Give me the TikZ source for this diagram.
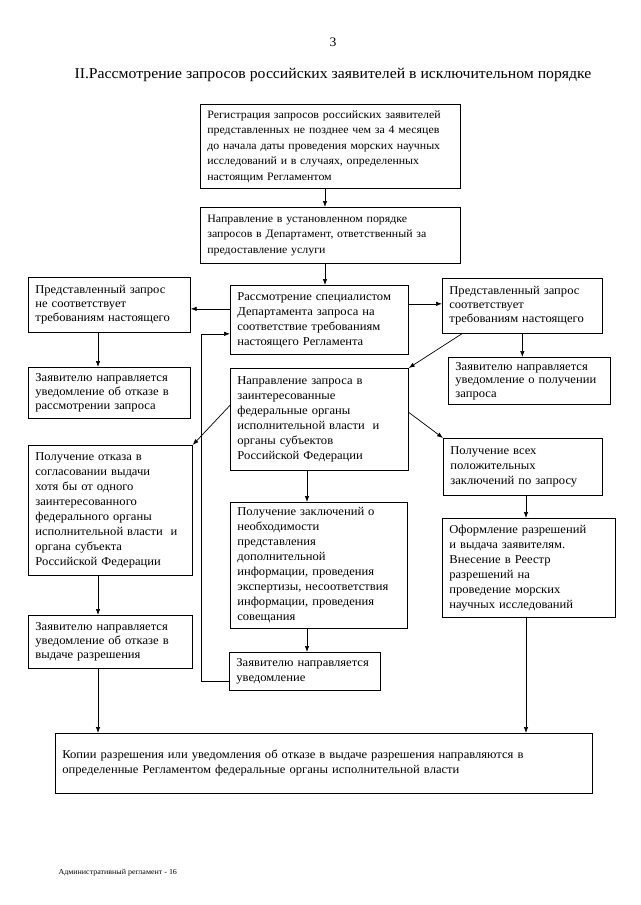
\documentclass[tikz,border=0pt]{standalone}
\usepackage{fontspec}
\setmainfont{Liberation Serif}[FakeStretch=1.05]
\usetikzlibrary{arrows.meta}

\begin{document}
\begin{tikzpicture}[x=1pt, y=-1pt,
  box/.style={draw, line width=0.7pt, anchor=north west, align=left,
    inner xsep=7pt, inner ysep=0pt, font=\fontsize{12}{15}\selectfont},
  arr/.style={line width=0.7pt, -{Latex[length=6pt, width=4.5pt]}}]
\useasboundingbox (0,0) rectangle (640,905);

% Header
\node (num) at (333,42) {\fontsize{13}{15}\selectfont 3};
\node (title) at (333,75) {\fontsize{15}{17}\selectfont II.Рассмотрение запросов российских заявителей в исключительном порядке};

% Middle column
\node[box, text width=246pt, minimum height=84pt, font=\fontsize{11.3}{15.5}\selectfont] (reg) at (200,104) {Регистрация запросов российских заявителей\\
представленных не позднее чем за 4 месяцев\\
до начала даты проведения морских научных\\
исследований и в случаях, определенных\\
настоящим Регламентом};
\node[box, text width=246pt, minimum height=56pt, font=\fontsize{11.3}{15.5}\selectfont] (napr) at (200,207) {Направление в установленном порядке\\
запросов в Департамент, ответственный за\\
предоставление услуги};
\node[box, text width=164pt, minimum height=69pt] (rassm) at (230,285) {Рассмотрение специалистом\\
Департамента запроса на\\
соответствие требованиям\\
настоящего Регламента};
\node[box, text width=164pt, minimum height=102pt] (zapros) at (230,368) {Направление запроса в\\
заинтересованные\\
федеральные органы\\
исполнительной власти~ и\\
органы субъектов\\
Российской Федерации};
\node[box, text width=163pt, minimum height=126pt] (zakl) at (230,502) {Получение заключений о\\
необходимости\\
представления\\
дополнительной\\
информации, проведения\\
экспертизы, несоответствия\\
информации, проведения\\
совещания};
\node[box, text width=137pt, minimum height=38pt] (uved) at (229,652) {Заявителю направляется\\
уведомление};

% Left column
\node[box, text width=148pt, minimum height=55pt, font=\fontsize{12}{14}\selectfont] (nesoot) at (28,277) {Представленный запрос\\
не соответствует\\
требованиям настоящего};
\node[box, text width=148pt, minimum height=51pt, font=\fontsize{12}{14}\selectfont] (otkrassm) at (28,367) {Заявителю направляется\\
уведомление об отказе в\\
рассмотрении запроса};
\node[box, text width=150pt, minimum height=130pt] (otkaz) at (28,445) {Получение отказа в\\
согласовании выдачи\\
хотя бы от одного\\
заинтересованного\\
федерального органы\\
исполнительной власти~ и\\
органа субъекта\\
Российской Федерации};
\node[box, text width=150pt, minimum height=53pt, font=\fontsize{12}{14}\selectfont] (otkvyd) at (28,615) {Заявителю направляется\\
уведомление об отказе в\\
выдаче разрешения};

% Right column
\node[box, text width=146pt, minimum height=55pt, font=\fontsize{12}{14}\selectfont] (soot) at (442,278) {Представленный запрос\\
соответствует\\
требованиям настоящего};
\node[box, text width=148pt, minimum height=47pt, font=\fontsize{12}{13.5}\selectfont] (uvpol) at (448,357) {Заявителю направляется\\
уведомление о получении\\
запроса};
\node[box, text width=145pt, minimum height=57pt] (vse) at (443,438) {Получение всех\\
положительных\\
заключений по запросу};
\node[box, text width=159pt, minimum height=99pt] (oform) at (442,518) {Оформление разрешений\\
и выдача заявителям.\\
Внесение в Реестр\\
разрешений на\\
проведение морских\\
научных исследований};

% Bottom
\node[box, text width=523pt, minimum height=60pt] (kopii) at (55,733) {Копии разрешения или уведомления об отказе в выдаче разрешения направляются в\\
определенные Регламентом федеральные органы исполнительной власти\\[10pt]};

\node[anchor=west, font=\fontsize{7.6}{9}\selectfont] (foot) at (55,873) {Административный регламент - 16};

% Axes of the arrows
\coordinate (axis) at (325,0);
\coordinate (maxis) at (307,0);
\coordinate (laxis) at (98,0);
\coordinate (raxis) at (526,0);
\coordinate (loop) at (201,0);

% Arrows
\draw[arr] (reg.south -| axis) -- (napr.north -| axis);
\draw[arr] (napr.south -| axis) -- (rassm.north -| axis);
\draw[arr] ([yshift=11pt]rassm.west) -- ([yshift=11pt]rassm.west -| nesoot.east);
\draw[arr] ([yshift=16pt]rassm.east) -- ([yshift=16pt]rassm.east -| soot.west);
\draw[arr] (nesoot.south -| laxis) -- (otkrassm.north -| laxis);
\draw[arr] (soot.south) -- (soot.south |- uvpol.north);
\draw[arr] ([xshift=20pt]soot.south west) -- (zapros.north east);
\draw[arr] ([yshift=14pt]zapros.west) -- (otkaz.north east);
\draw[arr] ([yshift=7pt]zapros.east) -- (vse.north west);
\draw[arr] (zapros.south -| maxis) -- (zakl.north -| maxis);
\draw[arr] (zakl.south -| maxis) -- (uved.north -| maxis);
\draw[arr] ([yshift=-10pt]uved.west) -- ([yshift=-10pt]uved.west -| loop)
  -- ([yshift=-14pt]rassm.west -| loop) -- ([yshift=-14pt]rassm.west);
\draw[arr] (otkaz.south -| laxis) -- (otkvyd.north -| laxis);
\draw[arr] (otkvyd.south -| laxis) -- (kopii.north -| laxis);
\draw[arr] (vse.south -| raxis) -- (oform.north -| raxis);
\draw[arr] (oform.south -| raxis) -- (kopii.north -| raxis);

\end{tikzpicture}
\end{document}
